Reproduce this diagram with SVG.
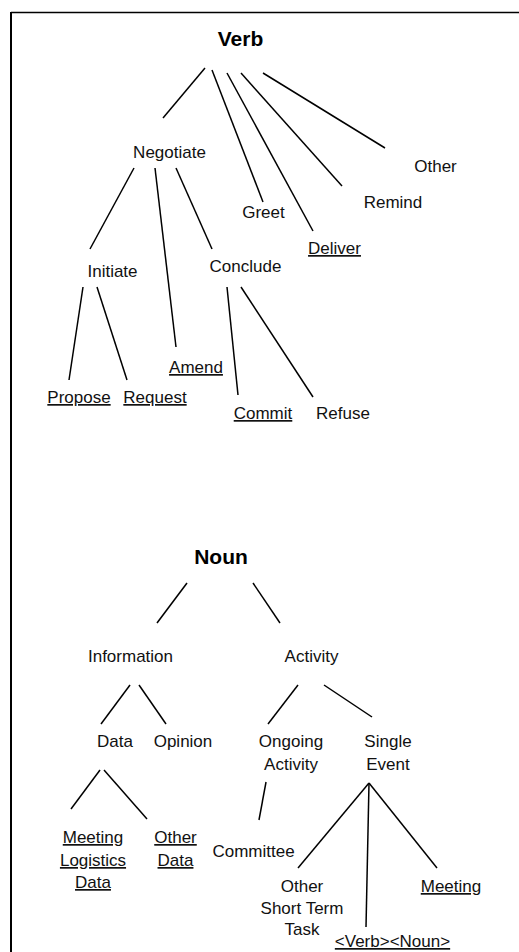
<svg xmlns="http://www.w3.org/2000/svg" width="519" height="952" viewBox="0 0 519 952">
<style>
text{font-family:"Liberation Sans",Arial,sans-serif;font-size:17px;fill:#111;text-anchor:middle}
.b{font-weight:bold;font-size:21px;fill:#000}
.u{text-decoration:underline}
.c line{stroke:#000;stroke-width:1.5;stroke-linecap:butt}
</style>
<rect width="519" height="952" fill="#fff"/>
<g id="frame">
<line x1="11" y1="12.5" x2="519" y2="12.5" stroke="#000" stroke-width="1.5"/>
<line x1="11" y1="12" x2="11" y2="952" stroke="#000" stroke-width="2"/>
</g>
<g class="c" id="connectors">
<line x1="205" y1="68" x2="163" y2="118"/>
<line x1="212" y1="70" x2="263" y2="202"/>
<line x1="227" y1="73" x2="313" y2="231"/>
<line x1="241" y1="73" x2="342" y2="186"/>
<line x1="263" y1="73" x2="385" y2="148"/>
<line x1="134" y1="168" x2="90" y2="249"/>
<line x1="155" y1="168" x2="176" y2="347"/>
<line x1="176" y1="168" x2="212" y2="249"/>
<line x1="83" y1="287" x2="69" y2="380"/>
<line x1="97" y1="287" x2="127" y2="380"/>
<line x1="227" y1="287" x2="238" y2="395"/>
<line x1="241" y1="287" x2="313" y2="397"/>
<line x1="187" y1="583" x2="157" y2="623"/>
<line x1="253" y1="583" x2="280" y2="623"/>
<line x1="130" y1="685" x2="101" y2="724"/>
<line x1="139" y1="685" x2="166" y2="724"/>
<line x1="298" y1="685" x2="268" y2="724"/>
<line x1="324" y1="685" x2="372" y2="717"/>
<line x1="100" y1="770" x2="71" y2="809"/>
<line x1="104" y1="770" x2="147" y2="819"/>
<line x1="266" y1="782" x2="259" y2="820"/>
<line x1="369" y1="783" x2="298" y2="868"/>
<line x1="369" y1="783" x2="366" y2="927"/>
<line x1="369" y1="783" x2="437" y2="868"/>
</g>
<g id="verb"><text class="b" x="240.5" y="46">Verb</text></g>
<g id="negotiate"><text x="169.5" y="158">Negotiate</text></g>
<g id="other"><text x="435.5" y="172">Other</text></g>
<g id="remind"><text x="393" y="208">Remind</text></g>
<g id="greet"><text x="263.5" y="218">Greet</text></g>
<g id="deliver"><text class="u" x="334.5" y="254">Deliver</text></g>
<g id="initiate"><text x="112.5" y="277">Initiate</text></g>
<g id="conclude"><text x="245.5" y="272">Conclude</text></g>
<g id="amend"><text class="u" x="196" y="373">Amend</text></g>
<g id="propose"><text class="u" x="79" y="403">Propose</text></g>
<g id="request"><text class="u" x="155" y="403">Request</text></g>
<g id="commit"><text class="u" x="263" y="419">Commit</text></g>
<g id="refuse"><text x="343" y="419">Refuse</text></g>
<g id="noun"><text class="b" x="221" y="564">Noun</text></g>
<g id="information"><text x="130.5" y="662">Information</text></g>
<g id="activity"><text x="311.5" y="662">Activity</text></g>
<g id="data"><text x="115" y="747">Data</text></g>
<g id="opinion"><text x="183" y="747">Opinion</text></g>
<g id="ongoing"><text x="291" y="747">Ongoing</text><text x="291" y="770">Activity</text></g>
<g id="single"><text x="388" y="747">Single</text><text x="388" y="770">Event</text></g>
<g id="mld"><text class="u" x="93" y="843">Meeting</text><text class="u" x="93" y="866">Logistics</text><text class="u" x="93" y="888">Data</text></g>
<g id="otherdata"><text class="u" x="175.5" y="843">Other</text><text class="u" x="175.5" y="866">Data</text></g>
<g id="committee"><text x="253.5" y="857">Committee</text></g>
<g id="ostt"><text x="302" y="892">Other</text><text x="302" y="914">Short Term</text><text x="302" y="935">Task</text></g>
<g id="meeting"><text class="u" x="451" y="892">Meeting</text></g>
<g id="verbnoun"><text class="u" x="392.5" y="947">&lt;Verb&gt;&lt;Noun&gt;</text></g>
</svg>
